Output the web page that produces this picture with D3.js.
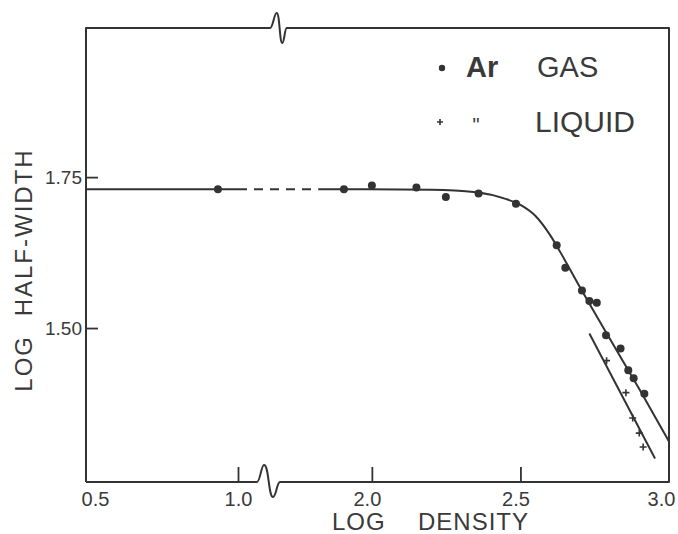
<!DOCTYPE html>
<meta charset="utf-8">
<style>
  body { margin: 0; background: #fff; }
  .frame, .fit { fill: none; stroke: #333; stroke-width: 2; stroke-linejoin: round; }
  .dash { stroke-dasharray: 9 7; }
  .gas { fill: #333; }
  .liquid { stroke: #333; stroke-width: 1.6; }
  text { font-family: "Liberation Sans", Arial, sans-serif; fill: #3a3a3a; }
  .axis line { stroke: #333; stroke-width: 1.8; }
</style>
<body>
<script src="https://d3js.org/d3.v7.min.js"></script>
<script>
var gasDensity = [0.934, 1.906, 2.0, 2.15, 2.249, 2.359, 2.485, 2.622, 2.651, 2.707, 2.732, 2.757, 2.788, 2.837, 2.863, 2.881, 2.917];
var gasWidth   = [1.730, 1.730, 1.736, 1.733, 1.717, 1.723, 1.706, 1.637, 1.600, 1.562, 1.545, 1.542, 1.488, 1.466, 1.430, 1.417, 1.391];

var liquidDensity = [2.790, 2.855, 2.878, 2.900, 2.913];
var liquidWidth   = [1.446, 1.393, 1.351, 1.326, 1.303];

// drawn curves
var gasFitDensity = [0.5, 1.0, 1.82, 2.2, 2.35, 2.45, 2.5, 2.55, 2.6, 2.65, 2.7, 2.8, 2.9, 3.0];
var gasFitWidth   = [1.730, 1.730, 1.730, 1.729, 1.725, 1.714, 1.704, 1.686, 1.654, 1.612, 1.568, 1.483, 1.399, 1.312];

var liquidFitDensity = [2.732, 2.953];
var liquidFitWidth   = [1.491, 1.284];

var xTicks = [0.5, 1.0, 2.0, 2.5, 3.0];
var yTicks = [1.50, 1.75];

var width = 678, height = 534;

var svg = d3.select("body").append("svg")
    .attr("width", width)
    .attr("height", height);

// broken axis: the jump sits between 1.0 and 1.6, both sides ~300px per unit
var x = d3.scaleLinear()
    .domain([0.5, 1.0, 1.6, 3.0])
    .range([86, 238, 253, 669]);

var y = d3.scaleLinear()
    .domain([1.245, 1.997])
    .range([482, 28]);

var x0 = x(0.5), x3 = x(3.0), yTop = y.range()[1], yBot = y.range()[0];

// frame with the little break wiggles
function wiggle(bx, yb, a, b, up, down, c) {
  return "H" + bx +
    "C" + (bx + a * 0.45) + "," + yb + " " + (bx + a * 0.6) + "," + (yb - up) + " " + (bx + a) + "," + (yb - up) +
    "C" + (bx + a + b * 0.55) + "," + (yb - up) + " " + (bx + a + b * 0.5) + "," + (yb + down) + " " + (bx + a + b) + "," + (yb + down) +
    "C" + (bx + a + b + c * 0.45) + "," + (yb + down) + " " + (bx + a + b + c * 0.55) + "," + yb + " " + (bx + a + b + c) + "," + yb;
}

svg.append("path")
    .attr("class", "frame")
    .attr("d", "M" + x0 + "," + yBot + wiggle(x(1.0) + 19, yBot, 7, 9, 17, 15, 7) + "H" + x3 + "V" + yTop +
               "H" + (x(1.0) + 48) + "M" + x0 + "," + yBot + "V" + yTop + wiggle(x(1.0) + 32, yTop, 6.7, 5.6, 15, 15, 4.4) + "H" + (x(1.0) + 48));

// axes
var xAxis = svg.append("g")
    .attr("class", "axis")
    .attr("transform", "translate(0," + yBot + ")")
    .call(d3.axisBottom(x).tickValues(xTicks).tickSize(-15).tickPadding(10).tickFormat(d3.format(".1f")));
xAxis.select(".domain").remove();
xAxis.selectAll("text")
    .attr("font-size", 20)
    .attr("dx", function(d) { return d === 0.5 ? 9 : d === 3.0 ? -8 : d === 2.0 || d === 2.5 ? -5 : 0; });
xAxis.selectAll(".tick").filter(function(d) { return d === 0.5 || d === 3.0; }).select("line").remove();

var yAxis = svg.append("g")
    .attr("class", "axis")
    .attr("transform", "translate(" + x0 + ",0)")
    .call(d3.axisLeft(y).tickValues(yTicks).tickSize(-12).tickPadding(4).tickFormat(d3.format(".2f")));
yAxis.select(".domain").remove();
yAxis.selectAll("text").attr("font-size", 19);

svg.selectAll(".axis").attr("font-family", null);

// axis titles
var xt = svg.append("text")
    .attr("y", 530)
    .attr("font-size", 24)
    .attr("letter-spacing", 1);
xt.append("tspan").attr("x", 332).text("LOG ");
xt.append("tspan").attr("x", 418).text("DENSITY");

var yt = svg.append("text")
    .attr("transform", "translate(32,270) rotate(-90)")
    .attr("text-anchor", "middle")
    .attr("font-size", 24)
    .attr("letter-spacing", 2);
yt.append("tspan").text("LOG ");
yt.append("tspan").attr("dx", 10).text("HALF-WIDTH");

// fitted curves
var gasFit = gasFitDensity.map(function(d, i) { return [d, gasFitWidth[i]]; });
var line = d3.line()
    .x(function(d) { return x(d[0]); })
    .y(function(d) { return y(d[1]); });

svg.append("path")
    .attr("class", "fit")
    .attr("d", line(gasFit.slice(0, 2)));

svg.append("path")
    .attr("class", "fit dash")
    .attr("d", line(gasFit.slice(1, 3)));

svg.append("path")
    .attr("class", "fit")
    .attr("d", line.curve(d3.curveMonotoneX)(gasFit.slice(2)));

svg.append("path")
    .attr("class", "fit")
    .attr("d", d3.line().x(function(d) { return x(d[0]); }).y(function(d) { return y(d[1]); })(
      liquidFitDensity.map(function(d, i) { return [d, liquidFitWidth[i]]; })));

// points
svg.append("g").selectAll("circle")
    .data(gasDensity)
  .enter().append("circle")
    .attr("class", "gas")
    .attr("cx", function(d) { return x(d); })
    .attr("cy", function(d, i) { return y(gasWidth[i]); })
    .attr("r", 4);

svg.append("g").selectAll("path")
    .data(liquidDensity)
  .enter().append("path")
    .attr("class", "liquid")
    .attr("d", function(d, i) {
      var cx = x(d), cy = y(liquidWidth[i]);
      return "M" + (cx - 3.5) + "," + cy + "H" + (cx + 3.5) + "M" + cx + "," + (cy - 3.5) + "V" + (cy + 3.5);
    });

// legend
var legend = svg.append("g");
legend.append("circle").attr("class", "gas").attr("cx", 442).attr("cy", 68).attr("r", 3.2);
legend.append("text").attr("x", 466).attr("y", 77).attr("font-size", 29).attr("font-weight", 600).text("Ar");
legend.append("text").attr("x", 537).attr("y", 77).attr("font-size", 29).text("GAS");
legend.append("path").attr("class", "liquid").attr("d", "M437,122H443M440,119V125");
legend.append("text").attr("x", 476).attr("y", 132).attr("text-anchor", "middle").attr("font-size", 20).text("\"");
legend.append("text").attr("x", 535).attr("y", 132).attr("font-size", 30).text("LIQUID");
</script>
</body>
</html>
